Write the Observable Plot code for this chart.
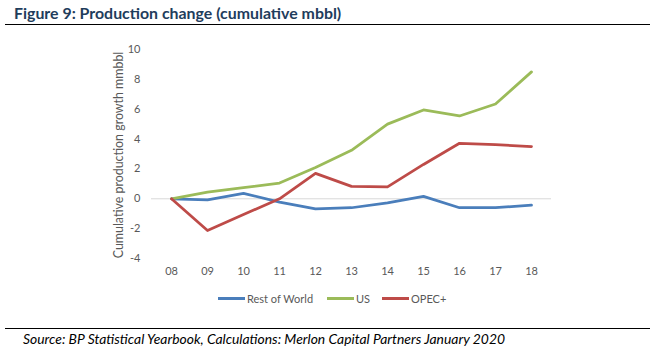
<!DOCTYPE html>
<html>
<head>
<meta charset="utf-8">
<script src="https://cdn.jsdelivr.net/npm/d3@7"></script>
<script src="https://cdn.jsdelivr.net/npm/@observablehq/plot@0.6"></script>
<style>
  html, body { margin: 0; padding: 0; background: #fff; }
  #wrap { position: relative; width: 656px; height: 358px; overflow: hidden; font-family: Lato, "Open Sans", sans-serif; }
  #chart { position: absolute; left: 0; top: 0; }
  .title { position: absolute; left: 14px; top: 3px; font-size: 15.9px; font-weight: bold; color: #1F3D5C; white-space: nowrap; }
  .hr { position: absolute; left: 5px; width: 645px; height: 0; border-top: 1.5px solid #000; }
  .caption { position: absolute; left: 23px; top: 330px; font-size: 13.9px; font-style: italic; color: #000; white-space: nowrap; }
  .ytitle { position: absolute; left: 118px; top: 155px; transform: translate(-50%, -50%) rotate(-90deg); font-size: 12.4px; color: #595959; white-space: nowrap; }
  .legend { position: absolute; top: 292px; left: 218px; font-size: 11px; color: #595959; white-space: nowrap; }
  .legend span.item { position: absolute; top: 0; display: flex; align-items: center; }
  .legend i { display: inline-block; width: 27px; height: 3px; margin-right: 2px; }
</style>
</head>
<body>
<div id="wrap">
  <div id="chart"></div>
  <div class="title">Figure 9: Production change (cumulative mbbl)</div>
  <div class="hr" style="top:24px"></div>
  <div class="ytitle">Cumulative production growth mmbbl</div>
  <div class="legend" id="legend"></div>
  <div class="hr" style="top:328px"></div>
  <div class="caption">Source: BP Statistical Yearbook, Calculations: Merlon Capital Partners January 2020</div>
</div>
<script>
const years = ["08","09","10","11","12","13","14","15","16","17","18"];
const restOfWorld = [0, -0.07, 0.36, -0.22, -0.67, -0.6, -0.27, 0.16, -0.6, -0.6, -0.42];
const us = [0, 0.45, 0.74, 1.05, 2.1, 3.25, 5.0, 5.95, 5.55, 6.35, 8.5];
const opec = [0, -2.13, -1.05, 0, 1.7, 0.83, 0.8, 2.3, 3.72, 3.63, 3.5];
const seriesNames = ["Rest of World", "US", "OPEC+"];
const seriesColors = ["#4A7EBB", "#9BBB59", "#BE4B48"];
const yTicks = [-4, -2, 0, 2, 4, 6, 8, 10];

const seriesValues = [restOfWorld, us, opec];
const data = [];
seriesNames.forEach((name, i) => {
  years.forEach((yr, j) => data.push({series: name, year: yr, value: seriesValues[i][j]}));
});

const chart = Plot.plot({
  width: 656,
  height: 358,
  marginLeft: 151,
  marginRight: 105,
  marginTop: 49,
  marginBottom: 100,
  style: {fontFamily: "Lato, 'Open Sans', sans-serif", fontSize: "11px", color: "#595959", background: "transparent"},
  x: {type: "point", domain: years, padding: 0.5, label: null},
  y: {domain: [-4, 10], label: null},
  color: {domain: seriesNames, range: seriesColors},
  marks: [
    Plot.ruleY([0], {stroke: "#D9D9D9", strokeWidth: 1}),
    Plot.axisX({tickSize: 0, tickPadding: 9, fill: "#595959", fontSize: 11, label: null}),
    Plot.axisY({ticks: yTicks, tickSize: 0, tickPadding: 11, fill: "#595959", fontSize: 11, label: null, tickFormat: d => d < 0 ? "-" + Math.abs(d) : String(d)}),
    Plot.line(data, {x: "year", y: "value", z: "series", stroke: "series", strokeWidth: 2.75, strokeLinejoin: "round", strokeLinecap: "round"})
  ]
});
document.getElementById("chart").appendChild(chart);

const legend = document.getElementById("legend");
const offsets = [0, 109, 164];
seriesNames.forEach((name, i) => {
  const s = document.createElement("span");
  s.className = "item";
  s.style.left = offsets[i] + "px";
  s.innerHTML = `<i style="background:${seriesColors[i]}"></i>${name}`;
  legend.appendChild(s);
});
</script>
</body>
</html>
